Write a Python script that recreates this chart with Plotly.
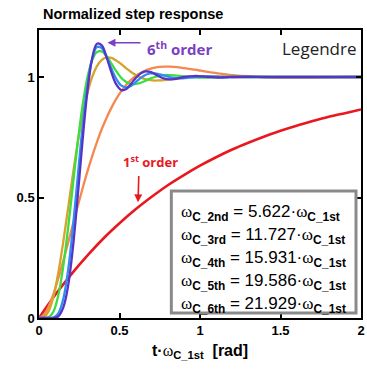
import plotly.graph_objects as go

# ---- data ----
x_hi = [0.0, 0.03, 0.06, 0.09, 0.12, 0.15, 0.18, 0.21, 0.24, 0.27,
        0.30, 0.33, 0.36, 0.39, 0.42, 0.45, 0.48, 0.51, 0.54, 0.57,
        0.60, 0.63, 0.66, 0.69, 0.72, 0.75, 0.78, 0.81, 0.84, 0.87,
        0.90, 0.93, 0.96, 0.99, 1.02, 1.05, 1.08, 1.11, 1.14, 1.17,
        1.20, 1.3, 1.4, 1.5, 1.6, 1.7, 1.8, 1.9, 2.0]

x_1st = [0.0, 0.1, 0.2, 0.3, 0.4, 0.5, 0.6, 0.7, 0.8, 0.9, 1.0,
         1.1, 1.2, 1.3, 1.4, 1.5, 1.6, 1.7, 1.8, 1.9, 2.0]
y_1st = [0.000, 0.095, 0.181, 0.259, 0.330, 0.393, 0.451, 0.503, 0.551, 0.593, 0.632,
         0.667, 0.699, 0.727, 0.753, 0.777, 0.798, 0.817, 0.835, 0.850, 0.865]

y_2nd = [0, 13, 48, 100, 164, 235, 310, 387, 463, 536,
         606, 671, 730, 784, 831, 873, 909, 940, 966, 987,
         1004, 1017, 1027, 1034, 1039, 1042, 1043, 1043, 1042, 1040,
         1037, 1034, 1031, 1028, 1024, 1021, 1018, 1015, 1013, 1010,
         1008, 1003, 1000, 998, 998, 998, 999, 1000, 1000]
y_3rd = [0, 3, 28, 90, 188, 313, 452, 593, 725, 839,
         931, 1000, 1045, 1071, 1081, 1079, 1068, 1054, 1037, 1022,
         1009, 998, 991, 987, 985, 986, 987, 990, 993, 995,
         998, 1000, 1001, 1002, 1002, 1002, 1002, 1002, 1001, 1001,
         1000, 1000, 1000, 1000, 1000, 1000, 1000, 1000, 1000]
y_4th = [0, 0, 3, 27, 94, 211, 369, 548, 726, 879,
         996, 1070, 1104, 1106, 1086, 1056, 1024, 997, 980, 971,
         971, 976, 984, 993, 1000, 1005, 1008, 1008, 1007, 1005,
         1002, 1000, 999, 998, 998, 998, 999, 999, 1000, 1000,
         1001, 1000, 1000, 1000, 1000, 1000, 1000, 1000, 1000]
y_5th = [0, 0, 0, 2, 19, 77, 195, 372, 582, 790,
         961, 1074, 1124, 1120, 1084, 1035, 992, 965, 957, 963,
         978, 995, 1008, 1015, 1015, 1011, 1006, 1000, 996, 994,
         995, 997, 999, 1001, 1002, 1002, 1002, 1001, 1000, 1000,
         1000, 1000, 1000, 1000, 1000, 1000, 1000, 1000, 1000]
y_6th = [0, 0, 0, 0, 7, 42, 130, 288, 500, 732,
         936, 1076, 1138, 1131, 1081, 1019, 969, 946, 949, 970,
         995, 1014, 1023, 1021, 1012, 1001, 993, 990, 991, 995,
         1000, 1003, 1004, 1004, 1002, 1000, 999, 998, 998, 999,
         1000, 1001, 1000, 1000, 1000, 1000, 1000, 1000, 1000]

series = [
    ("2nd", y_2nd, "#f5884e"),
    ("3rd", y_3rd, "#d6a32c"),
    ("4th", y_4th, "#3fdc3f"),
    ("5th", y_5th, "#2f8ff0"),
    ("6th", y_6th, "#5634c6"),
]

legend_orders = ["2nd", "3rd", "4th", "5th", "6th"]
legend_ratios = ["5.622", "11.727", "15.931", "19.586", "21.929"]
legend_y = [0.436, 0.340, 0.245, 0.149, 0.054]

x_ticks = [0, 0.5, 1, 1.5, 2]
x_tick_labels = ["0", "0.5", "1", "1.5", "2"]
y_ticks = [0, 0.5, 1]
y_tick_labels = ["0", "0.5", "1"]

fig = go.Figure()
fig.add_trace(go.Scatter(x=x_1st, y=y_1st, mode="lines", line=dict(color="#e8181e", width=2.6, shape="spline"),
                         showlegend=False, hoverinfo="skip"))
for name, vals, col in series:
    fig.add_trace(go.Scatter(x=x_hi, y=[v / 1000 for v in vals], mode="lines",
                             line=dict(color=col, width=2.3, shape="spline"),
                             showlegend=False, hoverinfo="skip"))

tickfont = dict(family="Liberation Sans", size=13, color="black")
fig.update_xaxes(range=[0, 2], tickvals=x_ticks, ticktext=[f"<b>{t}</b>" for t in x_tick_labels],
                 ticks="inside", ticklen=5, tickwidth=1.5, tickcolor="black",
                 showline=True, linecolor="black", linewidth=1.5, mirror="ticks",
                 showgrid=False, zeroline=False, tickfont=tickfont)
fig.update_yaxes(range=[0, 1.195], tickvals=y_ticks, ticktext=[f"<b>{t}</b>" for t in y_tick_labels],
                 ticks="inside", ticklen=5, tickwidth=1.5, tickcolor="black",
                 showline=True, linecolor="black", linewidth=1.5, mirror="ticks",
                 showgrid=False, zeroline=False, tickfont=tickfont)

# legend box
fig.add_shape(type="rect", xref="x", yref="y", x0=0.822, x1=1.969, y0=0.021, y1=0.527,
              line=dict(color="#8a8a8a", width=3), fillcolor="white", layer="above")

W = '<span style="font-family:Liberation Serif">ω</span>'
for o, r, yy in zip(legend_orders, legend_ratios, legend_y):
    fig.add_annotation(x=0.868, y=yy, xref="x", yref="y", xanchor="left", yanchor="middle",
                       showarrow=False,
                       text=f"{W}<sub><b>C_{o}</b></sub> = {r}·{W}<sub><b>C_1st</b></sub>",
                       font=dict(family="Liberation Sans", size=17, color="black"))

# labels
fig.add_annotation(x=1.745, y=1.12, xref="x", yref="y", showarrow=False,
                   text="Legendre", font=dict(family="Open Sans", size=17, color="#222"))
fig.add_annotation(x=0.66, y=1.118, xref="x", yref="y", xanchor="left", showarrow=False,
                   text="<b>6<sup>th</sup> order</b>", font=dict(family="Open Sans", size=15, color="#7b3fc4"))
fig.add_annotation(x=0.425, y=1.142, ax=0.64, ay=1.142, xref="x", yref="y", axref="x", ayref="y",
                   text="", showarrow=True, arrowhead=2, arrowsize=1, arrowwidth=1.6, arrowcolor="#7b3fc4")
fig.add_annotation(x=0.69, y=0.648, xref="x", yref="y", showarrow=False,
                   text="<b>1<sup>st</sup> order</b>", font=dict(family="Open Sans", size=13, color="#e8181e"))
fig.add_annotation(x=0.615, y=0.48, ax=0.62, ay=0.595, xref="x", yref="y", axref="x", ayref="y",
                   text="", showarrow=True, arrowhead=2, arrowsize=1, arrowwidth=1.6, arrowcolor="#e8181e")

fig.update_layout(
    title=dict(text="<b>Normalized step response</b>", x=0.117, xanchor="left", y=0.962, yanchor="middle",
               font=dict(family="Liberation Sans", size=14.5, color="black")),
    width=367, height=374, margin=dict(l=39, r=2, t=30, b=56),
    plot_bgcolor="white", paper_bgcolor="white",
)
fig.add_annotation(x=0.5, y=-0.118, xref="paper", yref="paper", showarrow=False, yanchor="middle",
                   text=f"<b>t·</b>{W}<sub><b>C_1st</b></sub><b>  [rad]</b>",
                   font=dict(family="Liberation Sans", size=16, color="black"))

fig.write_html("out.html")
